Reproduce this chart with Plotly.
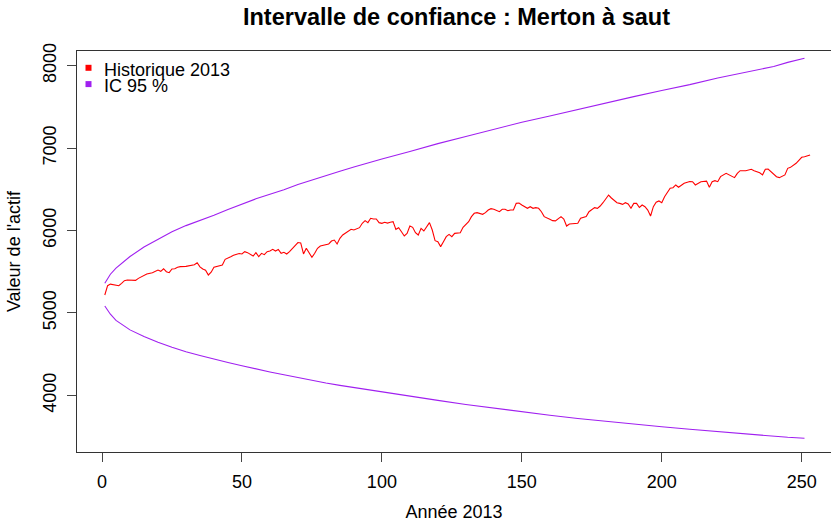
import plotly.graph_objects as go

# ---------------- data ----------------
red_days = [1, 2, 3, 5, 6, 7, 8, 9, 11, 12, 13, 15, 16, 18, 19, 20, 21, 22, 23, 24,
            25, 26, 27, 28, 30, 31, 32, 33, 34, 35, 36, 37, 38, 39, 40, 42, 43, 44, 45, 46,
            47, 48, 49, 50, 51, 52, 53, 54, 55, 56, 57, 58, 59, 60, 61, 62, 63, 64, 65, 66,
            67, 68, 70, 71, 72, 73, 74, 75, 76, 77, 78, 80, 81, 82, 83, 84, 85, 86, 87, 88,
            89, 90, 92, 93, 94, 95, 96, 97, 98, 99, 100, 101, 102, 103, 104, 105, 106, 107, 108, 109,
            110, 111, 112, 113, 114, 115, 116, 117, 118, 119, 120, 121, 122, 123, 124, 125, 126, 127, 128, 129,
            130, 131, 132, 133, 134, 136, 137, 138, 139, 140, 142, 143, 144, 145, 146, 147, 148, 149, 150, 151,
            152, 153, 154, 155, 156, 157, 158, 160, 161, 162, 164, 165, 166, 167, 168, 170, 171, 172, 173, 174,
            176, 177, 178, 179, 180, 181, 182, 183, 184, 185, 186, 187, 188, 189, 190, 191, 192, 193, 194, 195,
            196, 197, 198, 199, 200, 201, 202, 203, 204, 205, 206, 207, 208, 210, 211, 212, 213, 214, 216, 217,
            218, 219, 220, 221, 223, 224, 225, 226, 227, 228, 230, 231, 232, 233, 234, 235, 236, 237, 238, 239,
            241, 242, 243, 244, 245, 246, 248, 249, 250, 251, 252, 253]
red_values = [5218, 5331, 5350, 5340, 5331, 5360, 5392, 5400, 5392, 5396, 5420, 5457, 5473, 5489, 5509, 5521, 5505, 5537, 5501, 5489,
              5534, 5537, 5554, 5562, 5566, 5570, 5582, 5586, 5610, 5560, 5534, 5520, 5461, 5495, 5555, 5578, 5582, 5651, 5663, 5683,
              5700, 5715, 5722, 5716, 5744, 5732, 5708, 5691, 5732, 5683, 5724, 5708, 5744, 5752, 5772, 5752, 5772, 5724, 5736, 5716,
              5744, 5785, 5855, 5850, 5716, 5785, 5724, 5675, 5724, 5785, 5813, 5833, 5837, 5873, 5885, 5837, 5906, 5946, 5966, 5986,
              6015, 6007, 6035, 6088, 6120, 6096, 6149, 6140, 6140, 6096, 6088, 6100, 6090, 6100, 6108, 6015, 6035, 5986, 5934, 5966,
              6055, 6039, 5974, 5946, 6027, 5995, 6047, 6096, 6007, 5877, 5865, 5805, 5865, 5926, 5954, 5926, 5966, 5966, 5974, 6039,
              6080, 6108, 6169, 6209, 6217, 6197, 6217, 6249, 6266, 6258, 6229, 6258, 6258, 6241, 6249, 6249, 6330, 6334, 6310, 6285,
              6270, 6290, 6270, 6278, 6270, 6229, 6169, 6136, 6120, 6118, 6169, 6140, 6055, 6080, 6080, 6088, 6149, 6161, 6169, 6229,
              6278, 6270, 6298, 6338, 6391, 6431, 6395, 6371, 6338, 6330, 6318, 6338, 6322, 6270, 6330, 6330, 6280, 6310, 6290, 6249,
              6177, 6290, 6343, 6359, 6338, 6411, 6465, 6513, 6520, 6553, 6525, 6553, 6573, 6595, 6593, 6553, 6573, 6593, 6600, 6525,
              6593, 6605, 6593, 6654, 6694, 6674, 6654, 6642, 6694, 6726, 6726, 6735, 6743, 6726, 6714, 6700, 6676, 6743, 6747, 6714,
              6654, 6642, 6654, 6675, 6755, 6767, 6816, 6848, 6889, 6896, 6905, 6917]

ic_days = [1, 3, 5, 10, 15, 20, 25, 30, 35, 40, 45, 50, 55, 60, 65, 70, 75, 80, 85, 90,
           95, 100, 110, 120, 130, 140, 150, 160, 170, 180, 190, 200, 210, 220, 230, 240, 245, 251]
ic_upper = [5360, 5470, 5545, 5685, 5800, 5895, 5985, 6060, 6120, 6185, 6255, 6320, 6385, 6440, 6495, 6560, 6615, 6665, 6720, 6770,
            6820, 6868, 6960, 7055, 7140, 7230, 7315, 7390, 7470, 7550, 7625, 7700, 7770, 7850, 7920, 7990, 8040, 8090]
ic_lower = [5085, 4985, 4910, 4795, 4715, 4645, 4585, 4530, 4485, 4440, 4400, 4360, 4320, 4285, 4250, 4215, 4182, 4150, 4122, 4095,
            4067, 4040, 3990, 3940, 3890, 3845, 3800, 3760, 3720, 3685, 3650, 3620, 3590, 3560, 3530, 3505, 3492, 3480]

x_ticks = [0, 50, 100, 150, 200, 250]
y_ticks = [4000, 5000, 6000, 7000, 8000]
legend_labels = ["Historique 2013", "IC 95 %"]
title_text = "Intervalle de confiance : Merton à saut"
x_title = "Année 2013"
y_title = "Valeur de l'actif"

# ---------------- style / layout ----------------
W, H = 831, 524
ML, MR, MT, MB = 77, 0, 51, 72
PW, PH = W - ML - MR, H - MT - MB
RED = "#FF0000"
PURPLE = "#A020F0"
FONT = "Liberation Sans, Arial, sans-serif"


def px_x(px):
    return (px - ML) / PW


def px_y(py):
    return (H - MB - py) / PH


fig = go.Figure()
fig.add_trace(go.Scatter(x=red_days, y=red_values, mode="lines",
                         line=dict(color=RED, width=1.1), showlegend=False))
fig.add_trace(go.Scatter(x=ic_days, y=ic_upper, mode="lines",
                         line=dict(color=PURPLE, width=1.1), showlegend=False))
fig.add_trace(go.Scatter(x=ic_days, y=ic_lower, mode="lines",
                         line=dict(color=PURPLE, width=1.1), showlegend=False))

# legend (R style: small filled squares + text)
shapes = []
annotations = []
for k, (lab, col) in enumerate(zip(legend_labels, [RED, PURPLE])):
    cy = 67.8 + 16.3 * k
    shapes.append(dict(type="rect", xref="paper", yref="paper",
                       x0=px_x(85.5), x1=px_x(91.5), y0=px_y(cy + 3), y1=px_y(cy - 3),
                       fillcolor=col, line=dict(width=0)))
    annotations.append(dict(text=lab, xref="paper", yref="paper",
                            x=px_x(102), y=px_y(cy + 2), xanchor="left", yanchor="middle",
                            showarrow=False, font=dict(family=FONT, size=18, color="#000000")))

fig.update_layout(
    width=W, height=H,
    margin=dict(l=ML, r=MR, t=MT, b=MB, pad=0),
    paper_bgcolor="white", plot_bgcolor="white",
    showlegend=False,
    title=dict(text=title_text, x=456.5 / W, xanchor="center", xref="container",
               y=1 - 17 / H, yanchor="middle", yref="container",
               font=dict(family=FONT, size=23.5, color="#000000", weight="bold")),
    shapes=shapes, annotations=annotations,
    font=dict(family=FONT, size=18, color="#000000"),
)
fig.update_xaxes(range=[(ML - 102) / 2.7988, (W - 102) / 2.7988],
                 tickmode="array", tickvals=x_ticks, ticktext=[str(v) for v in x_ticks],
                 ticks="outside", ticklen=9, tickcolor="#444444", tickwidth=1,
                 ticklabelstandoff=4,
                 showgrid=False, zeroline=False,
                 showline=True, mirror=True, linecolor="#333333", linewidth=1,
                 tickfont=dict(family=FONT, size=18, color="#000000"),
                 title=dict(text=x_title, standoff=14, font=dict(family=FONT, size=18, color="#000000")))
fig.update_yaxes(range=[3313.7, 8178.3],
                 tickmode="array", tickvals=y_ticks, ticktext=[str(v) for v in y_ticks],
                 tickangle=-90,
                 ticks="outside", ticklen=9, tickcolor="#444444", tickwidth=1,
                 ticklabelstandoff=4,
                 showgrid=False, zeroline=False,
                 showline=True, mirror=False, linecolor="#333333", linewidth=1,
                 tickfont=dict(family=FONT, size=18, color="#000000"),
                 title=dict(text=y_title, standoff=14, font=dict(family=FONT, size=18, color="#000000")))

fig.write_html("out.html", config={"displayModeBar": False},
               post_script="document.body.style.margin='0px';document.body.style.overflow='hidden';")
